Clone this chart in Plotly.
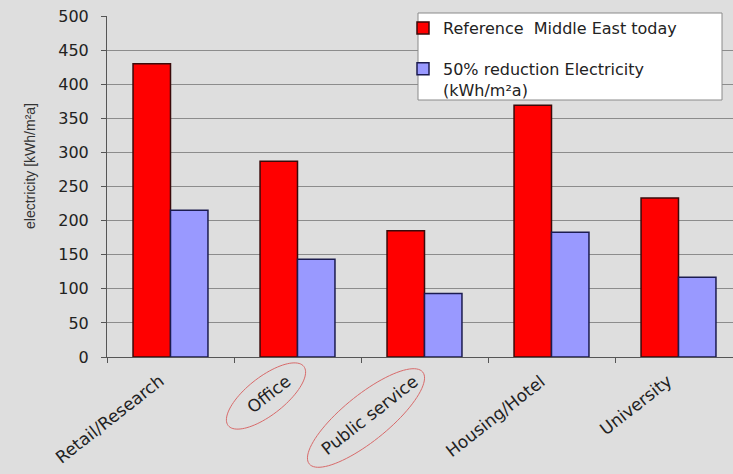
import numpy as np
import plotly.graph_objects as go

# Building categories and specific electricity demand (kWh/m²a)
categories = ["Retail/Research", "Office", "Public service", "Housing/Hotel", "University"]
reference_today = [430, 287, 185, 369, 233]
reduced_50 = [215, 143.5, 93, 183, 117]
series_names = ["Reference  Middle East today", "50% reduction Electricity"]
unit_line = "(kWh/m²a)"
y_ticks = [0, 50, 100, 150, 200, 250, 300, 350, 400, 450, 500]

W, H = 733, 474
L, R, T, B = 107, 0, 16, 117
PW, PH = W - L - R, H - T - B

def px_to_paper(x, y):
    return (x - L) / PW, (H - B - y) / PH

def ellipse_path(cx, cy, a, b, deg, n=90):
    th = np.radians(deg)
    t = np.linspace(0, 2 * np.pi, n, endpoint=False)
    xs = cx + a * np.cos(t) * np.cos(th) + b * np.sin(t) * np.sin(th)
    ys = cy - a * np.cos(t) * np.sin(th) + b * np.sin(t) * np.cos(th)
    pts = [px_to_paper(x, y) for x, y in zip(xs, ys)]
    return "M " + " L ".join(f"{x:.5f},{y:.5f}" for x, y in pts) + " Z"

font = "DejaVu Sans, Arial, sans-serif"
ink = "#222222"

fig = go.Figure()
fig.add_trace(go.Bar(
    x=categories, y=reference_today, name=series_names[0], legendgroup="a",
    marker=dict(color="#FF0000", line=dict(color="#3a0a0a", width=1.5)),
))
fig.add_trace(go.Bar(
    x=categories, y=reduced_50, name=series_names[1], legendgroup="b",
    marker=dict(color="#9999FF", line=dict(color="#1c1c50", width=1.5)),
))

# legend frame
x0, y0 = px_to_paper(418, 13)
x1, y1 = px_to_paper(722, 100)
shapes = [dict(type="rect", xref="paper", yref="paper", x0=x0, y0=y1, x1=x1, y1=y0,
               fillcolor="white", line=dict(color="#8a8a8a", width=1), layer="above")]
# highlight rings around two category labels
for cx, cy, a, b, deg in [(266, 396, 48, 19, 38), (366, 418, 73, 23, 39)]:
    shapes.append(dict(type="path", xref="paper", yref="paper",
                       path=ellipse_path(cx, cy, a, b, deg),
                       line=dict(color="#d86a6a", width=1), layer="above"))

lx, ly = px_to_paper(403, 11)
ax, ay = px_to_paper(20, 166)
ux, uy = px_to_paper(441, 79)

annotations = [
    dict(text="electricity [kWh/m²a]", x=ax, y=ay, xref="paper", yref="paper",
         textangle=-90, showarrow=False,
         font=dict(size=14, family="Liberation Sans, Arial, sans-serif", color="#333333")),
    dict(text=unit_line, x=ux, y=uy, xref="paper", yref="paper", xanchor="left",
         yanchor="top", showarrow=False, font=dict(size=16, family=font, color=ink)),
]
# slanted category labels under the axis
for c in categories:
    annotations.append(dict(
        text=c, x=c, xref="x", y=0, yref="paper", xanchor="right", yanchor="top",
        xshift=0, yshift=-11, textangle=-38, showarrow=False,
        font=dict(size=17, family=font, color=ink)))

fig.update_layout(
    width=W, height=H,
    margin=dict(l=L, r=R, t=T, b=B, autoexpand=False),
    paper_bgcolor="#dedede", plot_bgcolor="#dedede",
    barmode="group", bargap=0.41, bargroupgap=0,
    font=dict(family=font, color=ink),
    shapes=shapes,
    annotations=annotations,
    showlegend=True,
    legend=dict(x=lx, y=ly, xanchor="left", yanchor="top", bgcolor="rgba(0,0,0,0)",
                font=dict(size=16, family=font, color=ink),
                tracegroupgap=17, valign="top", traceorder="grouped"),
    xaxis=dict(
        type="category", range=[-0.5, -0.5 + PW / 127.0], automargin=False,
        showline=True, linecolor="#555555", linewidth=1,
        ticks="outside", tickson="boundaries", ticklen=5, tickcolor="#555555",
        showticklabels=False, showgrid=False,
    ),
    yaxis=dict(
        range=[0, 500], tickvals=y_ticks, automargin=False,
        showline=True, linecolor="#555555", linewidth=1,
        ticks="outside", ticklen=5, tickcolor="#555555",
        tickfont=dict(size=16, family=font, color=ink),
        ticklabelstandoff=9,
        showgrid=True, gridcolor="#8c8c8c", gridwidth=1, zeroline=False,
    ),
)

fig.write_html("out.html")
